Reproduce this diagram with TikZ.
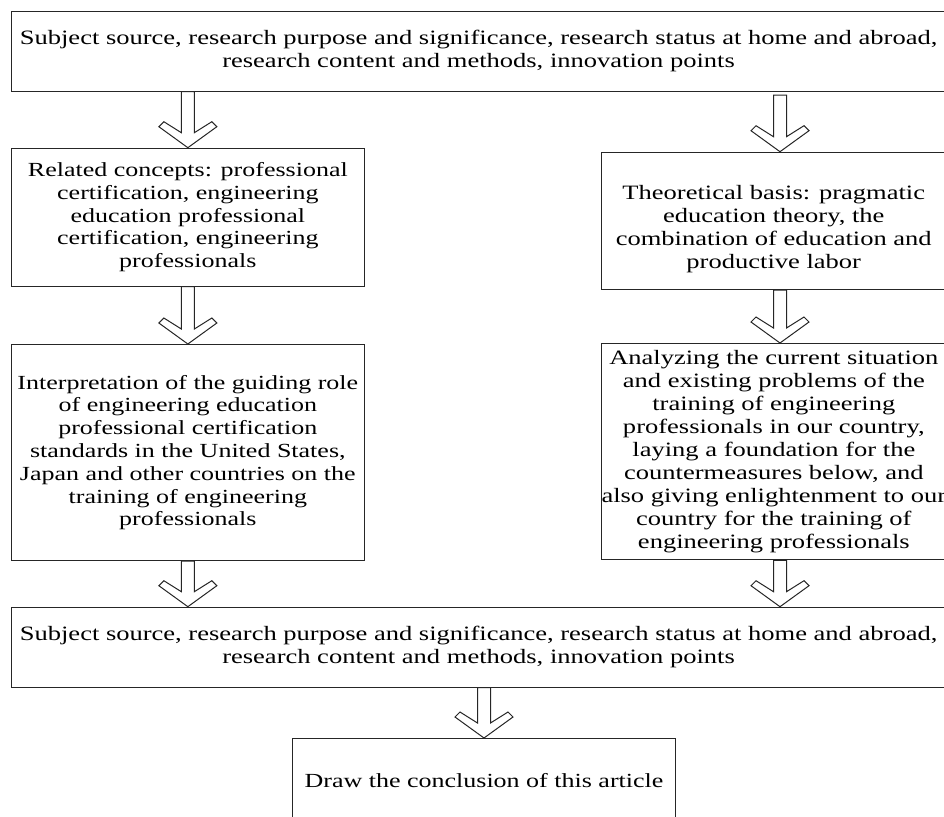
\documentclass[tikz,border=0pt]{standalone}
\usepackage{fontspec}
\setmainfont{Liberation Serif}[FakeStretch=1.3]
\usetikzlibrary{calc}

\newcommand{\hollowarrow}[2]{%
  \path (#1) coordinate (ha-s) (#2) coordinate (ha-t);
  \draw [harrow] ($(ha-s)+(-6.5,0)$)
    -- ($(ha-t)+(-6.5,-15)$)
    -- ($(ha-t)+(-24,-26)$)
    -- ($(ha-t)+(-29,-21)$)
    -- (ha-t)
    -- ($(ha-t)+(29,-21)$)
    -- ($(ha-t)+(24,-26)$)
    -- ($(ha-t)+(6.5,-15)$)
    -- ($(ha-s)+(6.5,0)$)
    -- cycle;}

\begin{document}
\begin{tikzpicture}[
x=0.5pt,y=-0.5pt,
line width=0.5pt
]

  \tikzstyle{box}=[draw=black!85,anchor=north west,inner sep=0pt,align=center]
  \tikzstyle{harrow}=[draw=black!85,fill=white,line join=miter]
  \tikzstyle{wide}=[box,minimum width=467.4pt,minimum height=40pt,font=\fontsize{10.2pt}{11.75pt}\selectfont]
  \tikzstyle{leftcol}=[box,minimum width=176.65pt,font=\fontsize{10pt}{11.4pt}\selectfont]
  \tikzstyle{rightcol}=[box,minimum width=172.25pt,font=\fontsize{10.2pt}{11.5pt}\selectfont]

  \useasboundingbox (0,0) rectangle (944,816);

  \node (top) [wide] at (10.7,10.7)
    {Subject source, research purpose and significance, research status at home and abroad,\\
     research content and methods, innovation points};

  \node (relL) [leftcol,minimum height=69pt] at (10.7,147.7)
    {Related concepts: professional\\ certification, engineering\\ education professional\\
     certification, engineering\\ professionals};

  \node (theoR) [rightcol,minimum height=68.65pt] at (601,151.7)
    {\rule{0pt}{15pt}Theoretical basis: pragmatic\\ education theory, the\\ combination of education and\\
     productive labor};

  \node (interpL) [leftcol,minimum height=108pt] at (10.7,344)
    {Interpretation of the guiding role\\ of engineering education\\ professional certification\\
     standards in the United States,\\ Japan and other countries on the\\ training of engineering\\
     professionals};

  \node (analyR) [rightcol,minimum height=108.15pt] at (601,343)
    {Analyzing the current situation\\ and existing problems of the\\ training of engineering\\
     professionals in our country,\\ laying a foundation for the\\ countermeasures below, and\\
     also giving enlightenment to our\\ country for the training of\\ engineering professionals};

  \node (mid) [wide] at (10.7,606.7)
    {Subject source, research purpose and significance, research status at home and abroad,\\
     research content and methods, innovation points};

  \node (concl) [box,minimum width=191.5pt,minimum height=42pt,font=\fontsize{10pt}{11.75pt}\selectfont] at (292,738)
    {Draw the conclusion of this article};

  \coordinate (colR) at (780,0);

  \hollowarrow{top.south -| relL.north}{relL.north}
  \hollowarrow{$(top.south -| colR)+(0,3.5)$}{theoR.north -| colR}
  \hollowarrow{relL.south}{interpL.north}
  \hollowarrow{theoR.south -| colR}{analyR.north -| colR}
  \hollowarrow{interpL.south}{mid.north -| interpL.south}
  \hollowarrow{analyR.south -| colR}{mid.north -| colR}
  \hollowarrow{mid.south -| concl.north}{concl.north}

\end{tikzpicture}
\end{document}
